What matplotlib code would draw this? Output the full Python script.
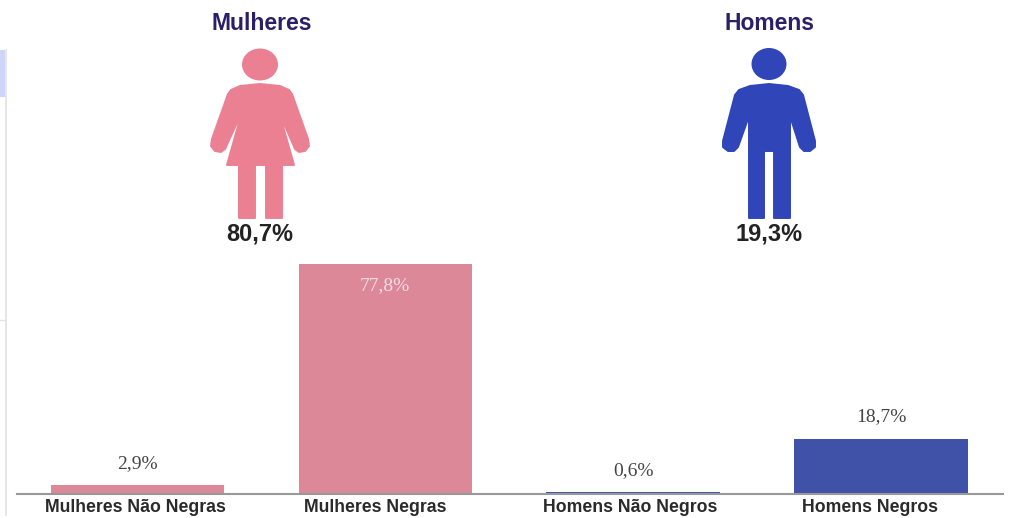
import matplotlib
matplotlib.use("Agg")
import matplotlib.pyplot as plt
from matplotlib.patches import Polygon, Ellipse, Rectangle

categories = ["Mulheres Não Negras", "Mulheres Negras", "Homens Não Negros", "Homens Negros"]
values = [2.9, 77.8, 0.6, 18.7]
value_labels = ["2,9%", "77,8%", "0,6%", "18,7%"]
bar_colors = ["#dc8898", "#dc8898", "#3f52a8", "#3f52a8"]
label_shift = [-2.5, -10, -3, -11]  # the labels are not quite under the bars

W, H = 1011, 518
PINK = "#ec8093"
BLUE = "#2f45b8"
NAVY = "#2b1f68"

plt.rcParams["font.family"] = ["Liberation Sans", "DejaVu Sans"]
fig = plt.figure(figsize=(W / 100, H / 100), dpi=100)

# bars
ax = fig.add_axes([17 / W, 1 - 494 / H, (1003 - 17) / W, 244 / H])
ax.bar(range(4), values, width=0.7, color=bar_colors)
ax.set_xlim(-0.486, 3.492)
ax.set_ylim(0, 82.5)
ax.set_yticks([])
ax.set_xticks([])
for s in ["top", "left", "right"]:
    ax.spines[s].set_visible(False)
ax.spines["bottom"].set_color("#999999")
ax.spines["bottom"].set_linewidth(1.5)
ax.patch.set_alpha(0)

for i, name in enumerate(categories):
    ax.annotate(name, (i, 0), xytext=(label_shift[i] * 0.72, -13 * 0.72), textcoords="offset points",
                ha="center", va="center", fontsize=12.7, fontweight="bold", color="#2a2a2a",
                annotation_clip=False)

for i, v in enumerate(values):
    if v > 50:
        ax.annotate(value_labels[i], (i, v), xytext=(0, -22 * 0.72), textcoords="offset points",
                    ha="center", va="center", color="#f2dfe4", fontsize=14, family="Liberation Serif")
    else:
        ax.annotate(value_labels[i], (i, v), xytext=(0, 22 * 0.72), textcoords="offset points",
                    ha="center", va="center", color="#444444", fontsize=14, family="Liberation Serif")

# overlay in pixel coordinates for icons and headers
ov = fig.add_axes([0, 0, 1, 1], zorder=-1)
ov.set_xlim(0, W)
ov.set_ylim(H, 0)
ov.axis("off")

# left edge of the page
ov.add_patch(Rectangle((0, 50), 5, 47, color="#ccd6fb", lw=0))
ov.plot([5.5, 5.5], [50, 515], color="#e2e2e2", lw=1.2)
ov.plot([0, 5], [320, 320], color="#e2e2e2", lw=1)

# woman
ov.add_patch(Ellipse((260, 64.5), 36, 32, color=PINK, lw=0))
woman = [(240, 86), (260, 84), (280, 86), (289, 90), (292, 94), (308, 139), (309, 146), (305, 151),
         (299, 152), (295, 149), (279, 112), (294, 165), (282, 165), (282, 218), (266, 218), (266, 165),
         (255, 165), (255, 218), (239, 218), (239, 165), (227, 165), (242, 112), (225, 149),
         (221, 152), (215, 151), (211, 146), (212, 139), (228, 94), (231, 90)]
ov.add_patch(Polygon(woman, closed=True, fc=PINK, ec=PINK, lw=1.4, joinstyle="round"))

# man
ov.add_patch(Ellipse((769, 64), 35, 32, color=BLUE, lw=0))
man = [(750, 86), (769, 84), (788, 86), (799, 90), (803, 95), (815, 141), (815, 147), (810, 151),
       (804, 151), (800, 147), (790, 116), (790, 218), (774, 218), (774, 151), (764, 151), (764, 218),
       (749, 218), (749, 116), (738, 147), (734, 151), (728, 151), (723, 147), (723, 141), (735, 95), (739, 90)]
ov.add_patch(Polygon(man, closed=True, fc=BLUE, ec=BLUE, lw=1.4, joinstyle="round"))

ov.text(262, 24, "Mulheres", ha="center", va="center", fontsize=16.5, fontweight="bold", color=NAVY)
ov.text(769.5, 24, "Homens", ha="center", va="center", fontsize=16.5, fontweight="bold", color=NAVY)
ov.text(260, 233.5, "80,7%", ha="center", va="center", fontsize=17, fontweight="bold", color="#222222")
ov.text(769, 233.5, "19,3%", ha="center", va="center", fontsize=17, fontweight="bold", color="#222222")

fig.savefig("out.png", dpi=100, facecolor="white")
